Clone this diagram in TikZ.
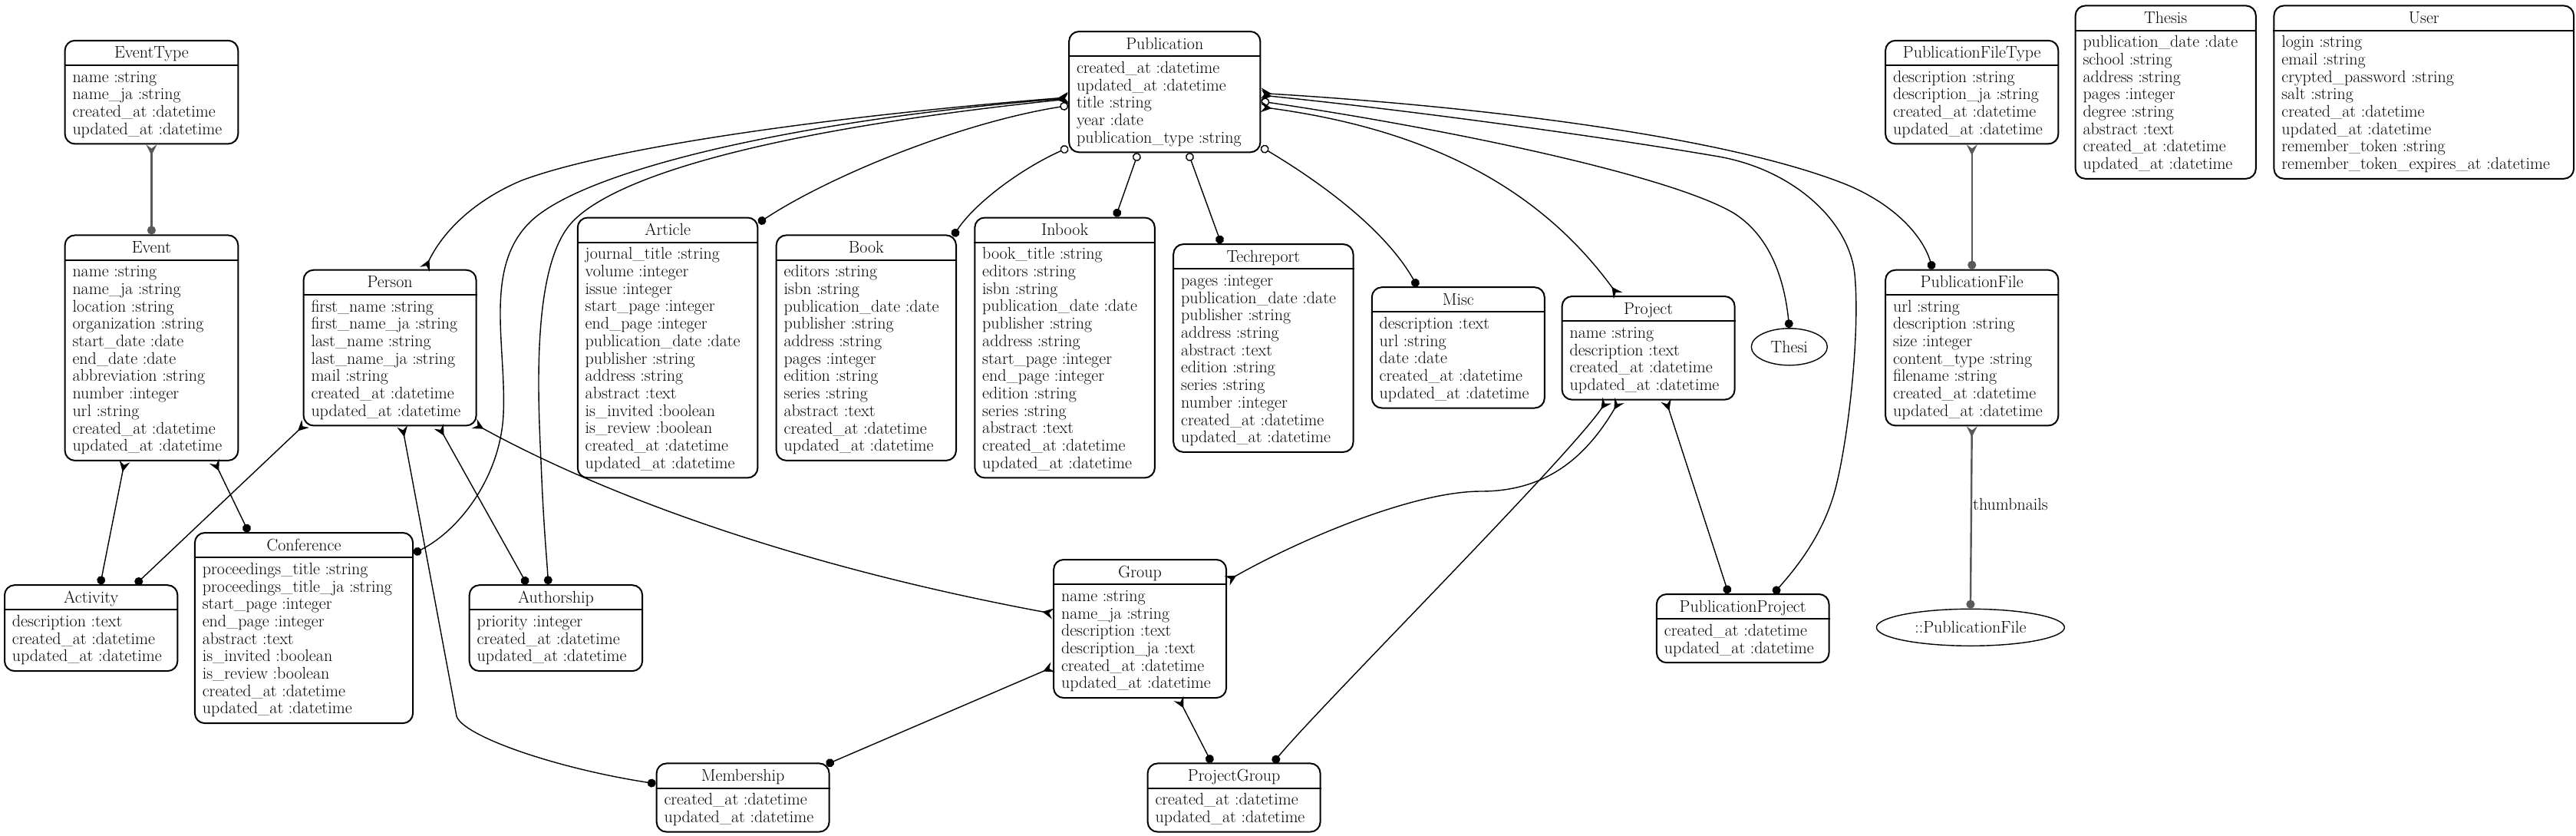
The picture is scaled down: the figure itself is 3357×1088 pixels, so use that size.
\documentclass[tikz,border=0pt]{standalone}
\usepackage{fontspec}
\usetikzlibrary{arrows.meta,shapes.geometric}
\tikzset{
 ebox/.style={draw, line width=2pt, rounded corners=13pt, inner sep=0pt, anchor=north west},
 eline/.style={line width=2pt},
 etitle/.style={font=\fontsize{22}{22.7}\selectfont, anchor=base, inner sep=0pt},
 ebody/.style={font=\fontsize{22}{22.7}\selectfont, anchor=base west, inner sep=0pt},
 eell/.style={draw, ellipse, line width=1.4pt, inner sep=0pt, font=\fontsize{22}{22.7}\selectfont},
 lbl/.style={font=\fontsize{22}{22.7}\selectfont, anchor=west, inner sep=0pt},
 rel/.style={line width=1.4pt},
 grel/.style={line width=2.4pt, draw=black!65},
 ecrow/.tip={Stealth[reversed,length=14pt,width=14pt,inset=5pt]},
 edot/.tip={Circle[length=11pt]},
 eodot/.tip={Circle[open,length=11pt]},
}
% id, x, y, width, rows, title, body
\newcommand{\erent}[7]{%
 \node[ebox, minimum width=#4pt, minimum height={43.8pt+22.7pt*#5}] (#1) at (#2,#3) {};
 \draw[eline] ([yshift=-33.2pt]#1.north west) -- ([yshift=-33.2pt]#1.north east);
 \node[etitle] (#1-t) at ([yshift=-24pt]#1.north) {#6};
 \node[ebody] (#1-b) at ([xshift=10.7pt,yshift=-55.3pt]#1.north west) {\begin{tabular}[t]{@{}l@{}}#7\end{tabular}};
}
\begin{document}
\begin{tikzpicture}[x=1pt,y=-1pt]
\useasboundingbox (0,0) rectangle (3357,1088);

\erent{et}{83.6}{51.8}{225.7}{4}{EventType}{name :string\\name\_ja :string\\created\_at :datetime\\updated\_at :datetime}
\erent{ev}{83.6}{305.4}{225.7}{11}{Event}{name :string\\name\_ja :string\\location :string\\organization :string\\start\_date :date\\end\_date :date\\abbreviation :string\\number :integer\\url :string\\created\_at :datetime\\updated\_at :datetime}
\erent{per}{394.6}{350.7}{225}{7}{Person}{first\_name :string\\first\_name\_ja :string\\last\_name :string\\last\_name\_ja :string\\mail :string\\created\_at :datetime\\updated\_at :datetime}
\erent{act}{5}{761.2}{225.4}{3}{Activity}{description :text\\created\_at :datetime\\updated\_at :datetime}
\erent{conf}{252.9}{693}{284.2}{9}{Conference}{proceedings\_title :string\\proceedings\_title\_ja :string\\start\_page :integer\\end\_page :integer\\abstract :text\\is\_invited :boolean\\is\_review :boolean\\created\_at :datetime\\updated\_at :datetime}
\erent{art}{751.8}{282.5}{234.6}{13}{Article}{journal\_title :string\\volume :integer\\issue :integer\\start\_page :integer\\end\_page :integer\\publication\_date :date\\publisher :string\\address :string\\abstract :text\\is\_invited :boolean\\is\_review :boolean\\created\_at :datetime\\updated\_at :datetime}
\erent{book}{1010.7}{305.4}{234.3}{11}{Book}{editors :string\\isbn :string\\publication\_date :date\\publisher :string\\address :string\\pages :integer\\edition :string\\series :string\\abstract :text\\created\_at :datetime\\updated\_at :datetime}
\erent{pub}{1392.1}{40}{249.3}{5}{Publication}{created\_at :datetime\\updated\_at :datetime\\title :string\\year :date\\publication\_type :string}
\erent{inb}{1269.3}{282.5}{234.6}{13}{Inbook}{book\_title :string\\editors :string\\isbn :string\\publication\_date :date\\publisher :string\\address :string\\start\_page :integer\\end\_page :integer\\edition :string\\series :string\\abstract :text\\created\_at :datetime\\updated\_at :datetime}
\erent{tech}{1528.2}{317.1}{234.3}{10}{Techreport}{pages :integer\\publication\_date :date\\publisher :string\\address :string\\abstract :text\\edition :string\\series :string\\number :integer\\created\_at :datetime\\updated\_at :datetime}
\erent{misc}{1786.8}{373.2}{225}{5}{Misc}{description :text\\url :string\\date :date\\created\_at :datetime\\updated\_at :datetime}
\erent{proj}{2034.6}{385}{225}{4}{Project}{name :string\\description :text\\created\_at :datetime\\updated\_at :datetime}
\erent{pft}{2456.1}{51.8}{225.3}{4}{PublicationFileType}{description :string\\description\_ja :string\\created\_at :datetime\\updated\_at :datetime}
\erent{pf}{2456.1}{350.7}{225.3}{7}{PublicationFile}{url :string\\description :string\\size :integer\\content\_type :string\\filename :string\\created\_at :datetime\\updated\_at :datetime}
\erent{thes}{2703.6}{6.4}{235.2}{8}{Thesis}{publication\_date :date\\school :string\\address :string\\pages :integer\\degree :string\\abstract :text\\created\_at :datetime\\updated\_at :datetime}
\erent{user}{2962.4}{6.4}{390.7}{8}{User}{login :string\\email :string\\crypted\_password :string\\salt :string\\created\_at :datetime\\updated\_at :datetime\\remember\_token :string\\remember\_token\_expires\_at :datetime}
\erent{pp}{2157.9}{773}{224.6}{2}{PublicationProject}{created\_at :datetime\\updated\_at :datetime}
\erent{auth}{610.7}{761.2}{225.4}{3}{Authorship}{priority :integer\\created\_at :datetime\\updated\_at :datetime}
\erent{mem}{854.6}{993.4}{225}{2}{Membership}{created\_at :datetime\\updated\_at :datetime}
\erent{grp}{1372.1}{728}{225}{6}{Group}{name :string\\name\_ja :string\\description :text\\description\_ja :text\\created\_at :datetime\\updated\_at :datetime}
\erent{pg}{1494.6}{993.4}{225}{2}{ProjectGroup}{created\_at :datetime\\updated\_at :datetime}

\node[eell, minimum width=99pt, minimum height=48pt] (thesi) at (2331.8,451.8) {Thesi};
\node[eell, minimum width=245pt, minimum height=48pt] (pfile) at (2567.9,817.3) {::PublicationFile};

% gray relations
\draw[grel, ecrow-edot] (et.south) -- (ev.north);
\draw[grel, ecrow-edot] (pft.south) -- (pf.north);
\draw[grel, ecrow-edot] (pf.south) -- (pfile.north);
\node[lbl] (thumb) at (2571,657) {thumbnails};

% Event
\draw[rel, ecrow-edot] ([xshift=78.9pt]ev.south west) -- ([xshift=125.7pt]act.north west);
\draw[rel, ecrow-edot] ([xshift=195.7pt]ev.south west) -- ([xshift=71pt]conf.north west);

% Person
\draw[rel, ecrow-edot] ([xshift=3.5pt,yshift=3.5pt]per.south west) -- ([xshift=171.8pt]act.north west);
\draw[rel, ecrow-edot] ([xshift=177.2pt]per.south west) -- ([xshift=76.1pt]auth.north west);
\draw[rel, ecrow-edot] ([xshift=129.7pt]per.south west) -- (595,933) .. controls (603,958) and (720,1000) .. ([yshift=-27.5pt]mem.north west);
\draw[rel, ecrow-ecrow] ([xshift=-3.5pt,yshift=3.5pt]per.south east) .. controls (760,630) and (1000,730) .. ([yshift=-71.4pt]grp.north west);

% Group
\draw[rel, edot-ecrow] ([xshift=-5pt,yshift=-2.5pt]mem.north east) -- ([yshift=-141pt]grp.north west);
\draw[rel, ecrow-edot] ([xshift=163.9pt]grp.south west) -- ([xshift=84.3pt]pg.north west);

% Project
\draw[rel, ecrow-edot] ([xshift=59.7pt]proj.south west) .. controls (2040,600) and (1720,920) .. ([xshift=164.7pt]pg.north west);
\draw[rel, ecrow-ecrow] ([xshift=75.8pt]proj.south west) .. controls (2070,590) and (2020,640) .. (1930,640) .. controls (1840,640) and (1690,705) .. ([yshift=-28.6pt]grp.north east);
\draw[rel, ecrow-edot] ([xshift=136.4pt]proj.south west) -- ([xshift=94.6pt]pp.north west);

% Publication, left side
\draw[rel, ecrow-ecrow] ([yshift=-86.8pt]pub.north west) .. controls (1100,150) and (800,190) .. (680,235) .. controls (620,260) and (578,300) .. ([xshift=159pt]per.north west);
\draw[rel, ecrow-edot] ([yshift=-88pt]pub.north west) .. controls (1050,155) and (760,220) .. (690,290) .. controls (630,350) and (660,450) .. (656,540) .. controls (652,620) and (600,690) .. ([yshift=-27.9pt]conf.north east);
\draw[rel, ecrow-edot] ([yshift=-89pt]pub.north west) .. controls (1000,170) and (800,230) .. (745,290) .. controls (695,345) and (700,500) .. (705,600) .. controls (708,680) and (712,720) .. ([xshift=103.9pt]auth.north west);
\draw[rel, eodot-edot] ([yshift=-97.5pt]pub.north west) .. controls (1250,160) and (1080,230) .. ([yshift=-8pt]art.north east);
\draw[rel, eodot-edot] ([yshift=7pt]pub.south west) .. controls (1330,220) and (1270,265) .. ([xshift=-5pt,yshift=-2.5pt]book.north east);

% Publication, bottom
\draw[rel, eodot-edot] ([xshift=91.1pt]pub.south west) -- ([xshift=184.6pt]inb.north west);
\draw[rel, eodot-edot] ([xshift=156.5pt]pub.south west) -- ([xshift=63.2pt]tech.north west);
\draw[rel, eodot-edot] ([yshift=8pt]pub.south east) .. controls (1700,225) and (1800,290) .. ([xshift=60.3pt]misc.north west);

% Publication, right side
\draw[rel, ecrow-edot] ([yshift=-81.4pt]pub.north east) .. controls (1950,140) and (2250,180) .. (2400,238) .. controls (2465,263) and (2505,305) .. ([xshift=62.5pt]pf.north west);
\draw[rel, ecrow-edot] ([yshift=-84pt]pub.north east) .. controls (1850,145) and (2100,180) .. (2240,204) .. controls (2340,222) and (2410,290) .. (2417,357) .. controls (2424,430) and (2410,560) .. (2394,628) .. controls (2380,690) and (2345,735) .. ([xshift=153.5pt]pp.north west);
\draw[rel, eodot-edot] ([yshift=-92pt]pub.north east) .. controls (1900,170) and (2180,230) .. (2260,278) .. controls (2310,310) and (2326,370) .. (thesi.north);
\draw[rel, ecrow-ecrow] ([yshift=-99.3pt]pub.north east) .. controls (1870,170) and (2010,250) .. ([xshift=74pt]proj.north west);
\end{tikzpicture}
\end{document}
